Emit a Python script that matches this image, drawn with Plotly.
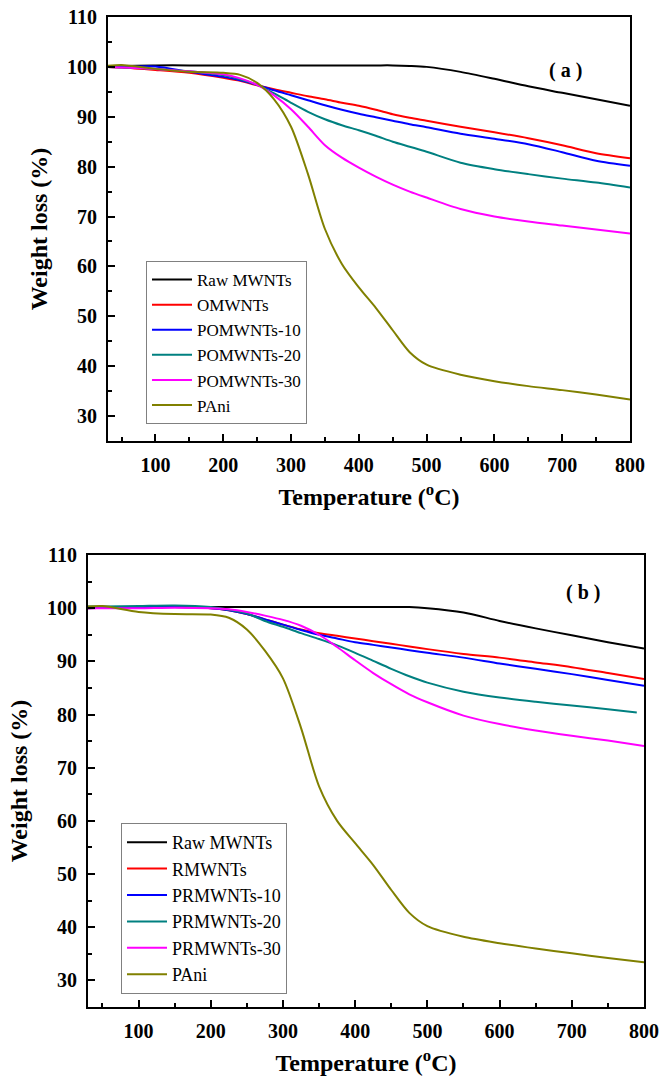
import plotly.graph_objects as go

# ---------------- data ----------------
temp = [30, 50, 100, 150, 200, 225, 250, 275, 300, 325, 350, 375, 400,
        425, 450, 475, 500, 550, 600, 650, 700, 750, 800]
temp_teal_b = [30, 50, 100, 150, 200, 225, 250, 275, 300, 325, 350, 375, 400,
               425, 450, 475, 500, 550, 600, 650, 700, 750, 790]

names_a = ["Raw MWNTs", "OMWNTs", "POMWNTs-10", "POMWNTs-20", "POMWNTs-30", "PAni"]
names_b = ["Raw MWNTs", "RMWNTs", "PRMWNTs-10", "PRMWNTs-20", "PRMWNTs-30", "PAni"]

raw_a = [100.0, 100.2, 100.3, 100.3, 100.3, 100.3, 100.3, 100.3, 100.3, 100.3, 100.3, 100.3, 100.3,
         100.3, 100.3, 100.2, 100.0, 99.0, 97.6, 96.1, 94.8, 93.5, 92.2]
om_a = [100.0, 99.9, 99.4, 98.8, 97.8, 97.2, 96.3, 95.5, 94.8, 94.1, 93.5, 92.8, 92.2,
        91.4, 90.5, 89.8, 89.2, 88.0, 86.9, 85.7, 84.3, 82.7, 81.7]
pom10_a = [100.0, 100.0, 100.1, 99.0, 98.0, 97.3, 96.4, 95.3, 94.3, 93.3, 92.3, 91.4, 90.6,
           89.9, 89.2, 88.5, 87.9, 86.6, 85.6, 84.5, 82.9, 81.2, 80.2]
pom20_a = [100.0, 99.9, 99.6, 99.1, 98.3, 97.5, 96.4, 94.7, 92.8, 91.0, 89.5, 88.3, 87.3,
           86.2, 85.0, 84.0, 83.0, 80.8, 79.5, 78.5, 77.6, 76.8, 75.8]
pom30_a = [100.0, 99.9, 99.6, 99.1, 98.5, 97.7, 96.4, 94.3, 91.5, 88.0, 84.3, 81.8, 79.8,
           78.0, 76.4, 75.0, 73.8, 71.5, 70.0, 69.0, 68.2, 67.4, 66.6]
pani_a = [100.2, 100.4, 99.6, 99.0, 98.8, 98.4, 96.8, 93.5, 88.0, 78.5, 67.5, 60.5, 55.8,
          51.7, 47.2, 42.8, 40.3, 38.3, 37.0, 36.0, 35.2, 34.3, 33.3]

raw_b = [100.1, 100.2, 100.2, 100.2, 100.2, 100.2, 100.2, 100.2, 100.2, 100.2, 100.2, 100.2, 100.2,
         100.2, 100.2, 100.2, 100.0, 99.2, 97.6, 96.2, 94.9, 93.6, 92.4]
rm_b = [100.0, 100.1, 100.2, 100.2, 100.0, 99.6, 98.9, 97.9, 96.9, 96.0, 95.3, 94.8, 94.3,
        93.8, 93.3, 92.8, 92.3, 91.4, 90.7, 89.8, 88.9, 87.8, 86.7]
prm10_b = [100.0, 100.1, 100.2, 100.2, 100.0, 99.6, 98.9, 97.9, 96.9, 95.9, 95.0, 94.3, 93.6,
           93.1, 92.6, 92.1, 91.6, 90.7, 89.6, 88.6, 87.6, 86.5, 85.4]
prm20_b = [100.3, 100.3, 100.4, 100.5, 100.2, 99.7, 99.0, 97.6, 96.5, 95.3, 94.2, 93.0, 91.6,
           90.1, 88.6, 87.2, 86.0, 84.3, 83.2, 82.4, 81.7, 81.0, 80.4]
prm30_b = [100.0, 100.0, 100.0, 100.1, 100.0, 99.8, 99.3, 98.6, 97.8, 96.7, 95.0, 92.7, 90.2,
           87.8, 85.7, 83.8, 82.3, 79.8, 78.2, 77.0, 76.0, 75.1, 74.1]
pani_b = [100.3, 100.4, 99.3, 98.9, 98.8, 98.2, 96.0, 92.0, 86.8, 77.5, 66.5, 60.0, 55.8,
          51.7, 47.0, 42.7, 40.2, 38.2, 37.0, 36.0, 35.1, 34.2, 33.4]

x_ticks = [100, 200, 300, 400, 500, 600, 700, 800]
y_ticks = [30, 40, 50, 60, 70, 80, 90, 100, 110]

colors = ["#000000", "#FF0000", "#0000FF", "#008080", "#FF00FF", "#808000"]

# ---------------- figure ----------------
SERIF = "Liberation Serif"
fig = go.Figure()

series_a = [(temp, raw_a), (temp, om_a), (temp, pom10_a), (temp, pom20_a), (temp, pom30_a), (temp, pani_a)]
series_b = [(temp, raw_b), (temp, rm_b), (temp, prm10_b), (temp_teal_b, prm20_b), (temp, prm30_b), (temp, pani_b)]

for i, (xs, ys) in enumerate(series_a):
    fig.add_trace(go.Scatter(x=xs, y=ys, mode="lines", name=names_a[i],
                             line=dict(color=colors[i], width=2, shape="spline", smoothing=0.8),
                             xaxis="x", yaxis="y", legend="legend"))
for i, (xs, ys) in enumerate(series_b):
    fig.add_trace(go.Scatter(x=xs, y=ys, mode="lines", name=names_b[i],
                             line=dict(color=colors[i], width=2, shape="spline", smoothing=0.8),
                             xaxis="x2", yaxis="y2", legend="legend2"))

W, H = 662, 1082

def xaxis_cfg(domain, anchor):
    return dict(domain=domain, anchor=anchor, range=[30, 800], tickvals=x_ticks,
                automargin=False,
                ticks="inside", ticklen=7, tickwidth=2, tickcolor="black",
                ticklabelstandoff=5,
                minor=dict(dtick=50, tick0=0, ticks="inside", ticklen=4, tickwidth=2, tickcolor="black"),
                showline=True, linecolor="black", linewidth=2, mirror=True,
                showgrid=False, zeroline=False,
                tickfont=dict(family=SERIF, size=20, color="black", weight="bold"),
                title=dict(text="Temperature (<sup>o</sup>C)",
                           font=dict(family=SERIF, size=24, color="black", weight="bold"),
                           standoff=13))

def yaxis_cfg(domain, anchor):
    return dict(domain=domain, anchor=anchor, range=[25, 110], tickvals=y_ticks,
                automargin=False,
                ticks="inside", ticklen=7, tickwidth=2, tickcolor="black",
                ticklabelstandoff=5,
                minor=dict(dtick=5, tick0=0, ticks="inside", ticklen=4, tickwidth=2, tickcolor="black"),
                showline=True, linecolor="black", linewidth=2, mirror=True,
                showgrid=False, zeroline=False,
                tickfont=dict(family=SERIF, size=20, color="black", weight="bold"),
                title=dict(text="Weight loss (%)",
                           font=dict(family=SERIF, size=24, color="black", weight="bold"),
                           standoff=13))

fig.update_layout(
    width=W, height=H,
    margin=dict(l=0, r=0, t=0, b=0),
    paper_bgcolor="white", plot_bgcolor="white",
    xaxis=xaxis_cfg([108 / W, 630 / W], "y"),
    yaxis=yaxis_cfg([1 - 441 / H, 1 - 17 / H], "x"),
    xaxis2=xaxis_cfg([88 / W, 644 / W], "y2"),
    yaxis2=yaxis_cfg([1 - 1007 / H, 1 - 555 / H], "x2"),
    legend=dict(x=146 / W, y=1 - 261 / H, xanchor="left", yanchor="top",
                bordercolor="#808080", borderwidth=1, bgcolor="rgba(255,255,255,0)",
                font=dict(family=SERIF, size=17, color="black"),
                itemwidth=40, tracegroupgap=0),
    legend2=dict(x=121 / W, y=1 - 823 / H, xanchor="left", yanchor="top",
                 bordercolor="#808080", borderwidth=1, bgcolor="rgba(255,255,255,0)",
                 font=dict(family=SERIF, size=18, color="black"),
                 itemwidth=40, tracegroupgap=0),
    annotations=[
        dict(text="( a )", x=584 / W, y=1 - 57 / H, xref="paper", yref="paper",
             showarrow=False, font=dict(family=SERIF, size=20, color="black", weight="bold")),
        dict(text="( b )", x=602 / W, y=1 - 592 / H, xref="paper", yref="paper",
             showarrow=False, font=dict(family=SERIF, size=20, color="black", weight="bold")),
    ],
)

fig.write_html("out.html",
               config={"displayModeBar": False},
               post_script="document.body.style.margin='0px';document.body.style.overflow='hidden';")
